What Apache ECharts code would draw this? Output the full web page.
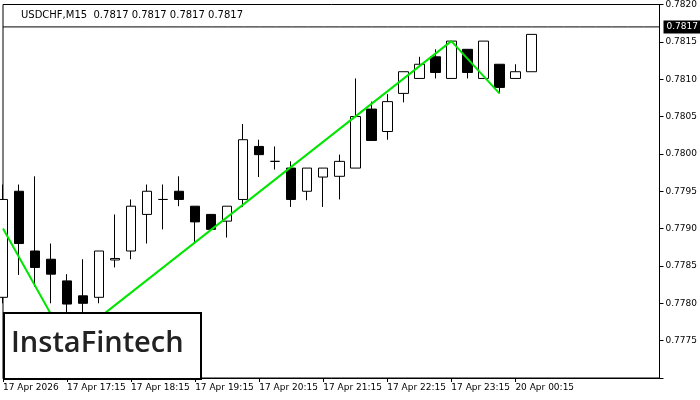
<!DOCTYPE html>
<html><head><meta charset="utf-8">
<script src="https://cdn.jsdelivr.net/npm/echarts@6/dist/echarts.min.js"></script>
<style>html,body{margin:0;padding:0;background:#fff}#c{width:700px;height:400px}</style>
</head><body><div id="c"></div>
<script>
const times = ['17 Apr 2026','16:30','16:45','17:00','17 Apr 17:15','17:30','17:45','18:00','17 Apr 18:15','18:30','18:45','19:00','17 Apr 19:15','19:30','19:45','20:00','17 Apr 20:15','20:30','20:45','21:00','17 Apr 21:15','21:30','21:45','22:00','17 Apr 22:15','22:30','22:45','23:00','17 Apr 23:15','23:30','23:45','00:00','20 Apr 00:15','00:30'];
const opens  = [0.77808,0.77950,0.77870,0.77859,0.77830,0.77810,0.77808,0.77858,0.77870,0.77919,0.77939,0.77950,0.77930,0.77919,0.77910,0.77939,0.78010,0.77990,0.77981,0.77950,0.77969,0.77970,0.77981,0.78060,0.78030,0.78081,0.78101,0.78130,0.78101,0.78140,0.78101,0.78120,0.78101,0.78110];
const closes = [0.77939,0.77880,0.77848,0.77839,0.77799,0.77800,0.77870,0.77860,0.77930,0.77950,0.77939,0.77939,0.77909,0.77899,0.77930,0.78019,0.77999,0.77990,0.77939,0.77981,0.77981,0.77990,0.78050,0.78018,0.78070,0.78110,0.78120,0.78109,0.78151,0.78109,0.78151,0.78089,0.78110,0.78160];
const lows   = [0.77800,0.77838,0.77822,0.77800,0.77745,0.77770,0.77800,0.77848,0.77859,0.77880,0.77899,0.77930,0.77880,0.77899,0.77888,0.77929,0.77969,0.77979,0.77929,0.77938,0.77929,0.77939,0.77981,0.78018,0.78019,0.78069,0.78101,0.78101,0.78101,0.78101,0.78101,0.78081,0.78101,0.78110];
const highs  = [0.77959,0.77959,0.77970,0.77880,0.77839,0.77859,0.77870,0.77919,0.77939,0.77959,0.77959,0.77970,0.77930,0.77919,0.77930,0.78040,0.78019,0.78010,0.77990,0.77981,0.77981,0.77999,0.78101,0.78070,0.78080,0.78110,0.78130,0.78140,0.78151,0.78140,0.78151,0.78120,0.78120,0.78160];
const patternIdx = [0,4,28,31];
const patternVal = [0.77900,0.77747,0.78151,0.78081];
const yTicks = ['0.7775','0.7780','0.7785','0.7790','0.7795','0.7800','0.7805','0.7810','0.7815','0.7820'];
const lastPrice = 0.7817;
const totalSlots = 42;

const cats = [];
for (let i = 0; i < totalSlots; i++) cats.push(i < times.length ? times[i] : '');
const candles = opens.map((o,i)=>[o, closes[i], lows[i], highs[i]]);
const pattern = new Array(totalSlots).fill(null);
patternIdx.forEach((k,j)=>{ pattern[k] = patternVal[j]; });
const priceLine = new Array(totalSlots).fill(lastPrice);

const chart = echarts.init(document.getElementById('c'));
chart.setOption({
  animation:false,
  backgroundColor:'#fff',
  textStyle:{fontFamily:'DejaVu Sans'},
  title:{text:'USDCHF,M15  0.7817 0.7817 0.7817 0.7817',left:16,top:5,textStyle:{fontSize:10,fontWeight:'normal',color:'#000'}},
  grid:{left:2,right:39,top:4,bottom:22,show:true,borderColor:'#000',borderWidth:1,backgroundColor:'#fff'},
  xAxis:{type:'category',data:cats,boundaryGap:false,
    axisLine:{lineStyle:{color:'#000'}},
    axisTick:{show:true,interval:(i)=>i%4===0 && i<times.length,lineStyle:{color:'#000'},length:4},
    axisLabel:{interval:(i)=>i%4===0 && i<times.length,color:'#000',fontSize:9,align:'left',margin:5},
    splitLine:{show:false}},
  yAxis:{type:'value',position:'right',min:0.7770,max:0.7820,interval:0.0005,scale:true,
    axisLine:{show:true,lineStyle:{color:'#000'}},
    axisTick:{show:true,length:4,lineStyle:{color:'#000'}},
    axisLabel:{color:'#000',fontSize:9,margin:6,formatter:(v)=>{const s=v.toFixed(4);return yTicks.includes(s)?s:'';}},
    splitLine:{show:false}},
  series:[
    {type:'line',data:priceLine,symbol:'none',lineStyle:{color:'#000',width:1},z:1,
      endLabel:{show:true,formatter:lastPrice.toFixed(4),backgroundColor:'#000',color:'#fff',fontSize:9,padding:[2,3],distance:4}},
    {type:'candlestick',data:candles,barWidth:10,z:3,
      itemStyle:{color:'#fff',color0:'#000',borderColor:'#000',borderColor0:'#000',borderWidth:1}},
    {type:'line',data:pattern,connectNulls:true,symbol:'none',lineStyle:{color:'#00e600',width:2},z:5}
  ],
  graphic:[
    {type:'rect',left:3,top:312,shape:{width:197,height:66},style:{fill:'#fff',stroke:'#000',lineWidth:2},z:100},
    {type:'text',left:11,top:329,style:{text:'InstaFintech',font:'600 29px "Open Sans"',fill:'#222'},z:101}
  ]
});
</script></body></html>
